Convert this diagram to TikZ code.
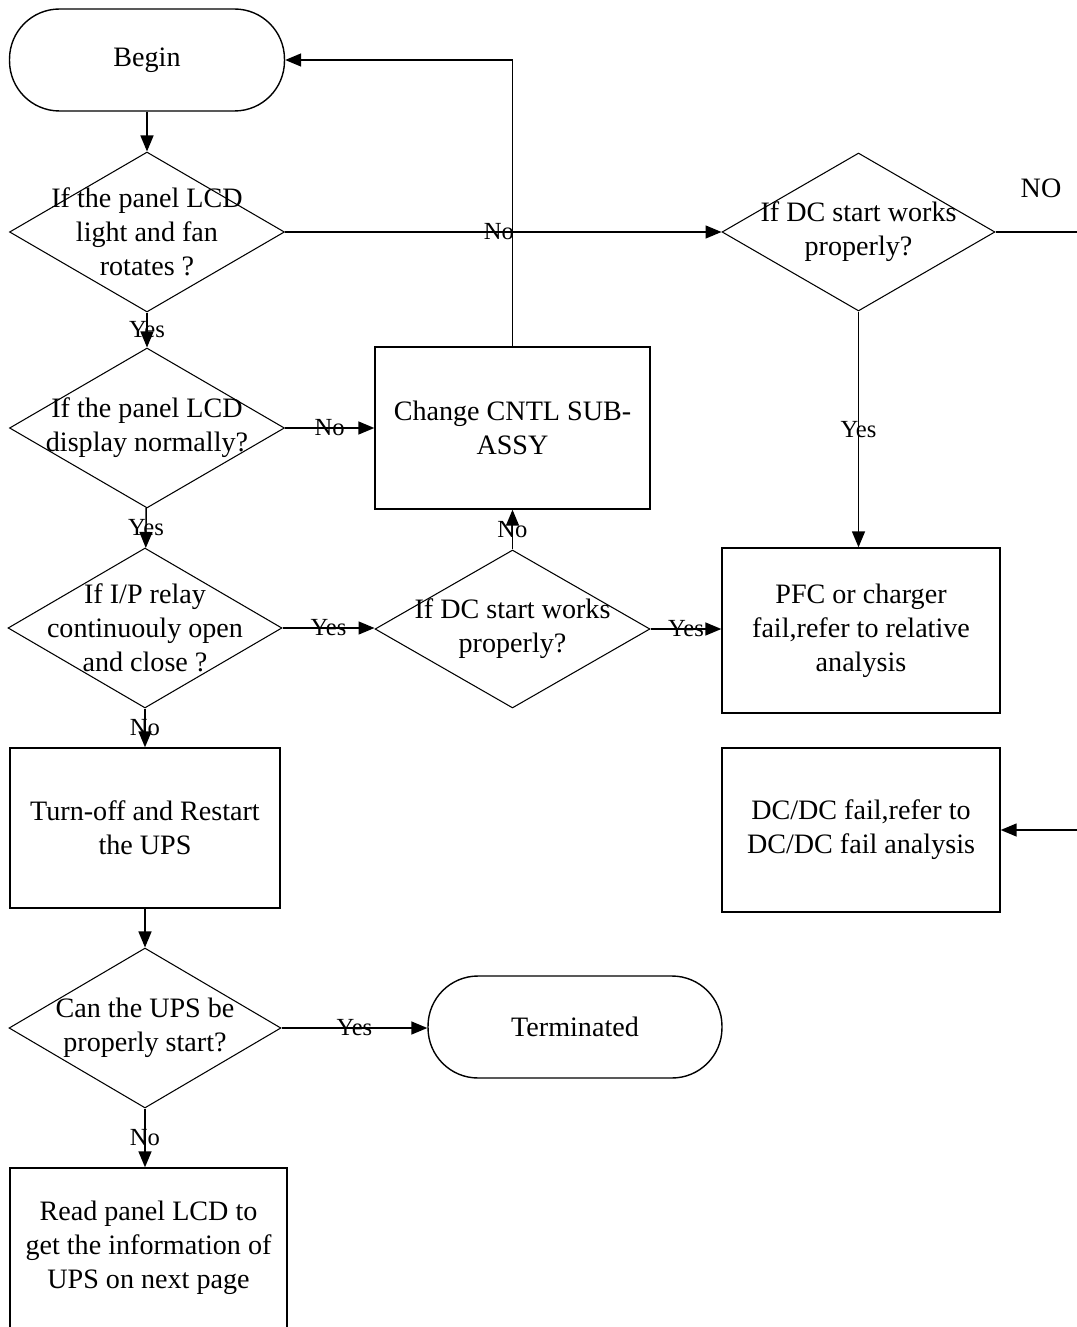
\documentclass[tikz,border=0pt]{standalone}
\usepackage{fontspec}
\setmainfont{Liberation Serif}
\usepackage{tikz}
\usetikzlibrary{shapes.geometric}
\usetikzlibrary{arrows.meta}
\usetikzlibrary{positioning}

\begin{document}
\begin{tikzpicture}
    [
    x=0.02cm, y=-0.02cm,
    line width=0.8pt,
    txt/.style={align=center, font=\fontsize{16}{19.3}\selectfont},
    terminal/.style={draw, txt, rounded corners=1cm, minimum height=2.04cm, minimum width=5.5cm},
    decision/.style={diamond, draw, line width=0.6pt, inner sep=0pt, minimum width=5.5cm, minimum height=3.2cm},
    dtext/.style={txt, inner sep=0pt},
    process/.style={rectangle, draw, txt, minimum width=5.5cm, minimum height=3.2cm},
    lbl/.style={inner sep=0pt, font=\fontsize{14}{16}\selectfont},
    arr/.style={-{Triangle[length=3.2mm,width=2.6mm]}},
    ]
    \useasboundingbox [fill=white] (0,0) rectangle (1077,1327);

    \node (begin) at (147,60) [terminal] {Begin};
    \node (d1) at (147,232) [decision, label={[dtext]center:{If the panel LCD\\light and fan\\rotates ?}}] {};
    \node (d2) at (147,428) [decision, label={[dtext]center:{If the panel LCD\\display normally?}}] {};
    \node (d3) at (145,628) [decision, minimum width=5.48cm, label={[dtext]center:{If I/P relay\\continuouly open\\and close ?}}] {};
    \node (restart) at (145,828) [process, minimum width=5.4cm] {Turn-off and Restart\\the UPS};
    \node (d4) at (145,1028) [decision, minimum width=5.44cm, label={[dtext]center:{Can the UPS be\\properly start?}}] {};
    \node (readlcd) at (148.5,1248) [process, minimum width=5.54cm] {Read panel LCD to\\get the information of\\UPS on next page};
    \node (term) at (575,1027) [terminal, minimum width=5.88cm] {Terminated};

    \node (change) at (512.5,428) [process, minimum height=3.24cm] {Change CNTL SUB-\\ASSY};
    \node (d5) at (512.5,629) [decision, minimum height=3.16cm, label={[dtext]center:{If DC start works\\properly?}}] {};
    \node (d6) at (858.5,232) [decision, minimum width=5.46cm, minimum height=3.16cm, label={[dtext]center:{If DC start works\\properly?}}] {};
    \node (pfc) at (861,630.5) [process, minimum width=5.56cm, minimum height=3.3cm] {PFC or charger\\fail,refer to relative\\analysis};
    \node (dcdc) at (861,830) [process, minimum width=5.56cm, minimum height=3.28cm] {DC/DC fail,refer to\\DC/DC fail analysis};
    \node (no) at (1041,188) [txt] {NO};

    % left column
    \draw [arr] (begin) to (d1);
    \draw [arr] (d1) to node [lbl] {Yes} (d2);
    \draw [arr] (d2) to node [lbl] {Yes} (d3);
    \draw [arr] (d3) to node [lbl] {No} (restart);
    \draw [arr] (restart) to (d4);
    \draw [arr] (d4.south) to node [lbl] {No} (d4.south |- readlcd.north);
    \draw [arr] (d4.east) to node [lbl] {Yes} (term.west |- d4.east);

    % middle
    \draw [arr] (d2) to node [lbl] {No} (change);
    \draw [arr] (d3.east) to node [lbl] {Yes} (d5.west |- d3.east);
    \draw [arr] (d5) to node [lbl] {No} (change);
    \draw [arr] (d5) to node [lbl] {Yes} (pfc.west |- d5.east);
    \draw [arr] (change.north) |- (begin.east);

    % right
    \draw [arr] (d1) to node [lbl, pos=0.49] {No} (d6);
    \draw [arr] (d6.south) to node [lbl] {Yes} (d6.south |- pfc.north);
    \draw [arr] (d6.east) -- ++(100,0) |- (dcdc.east);
  \end{tikzpicture}
\end{document}
